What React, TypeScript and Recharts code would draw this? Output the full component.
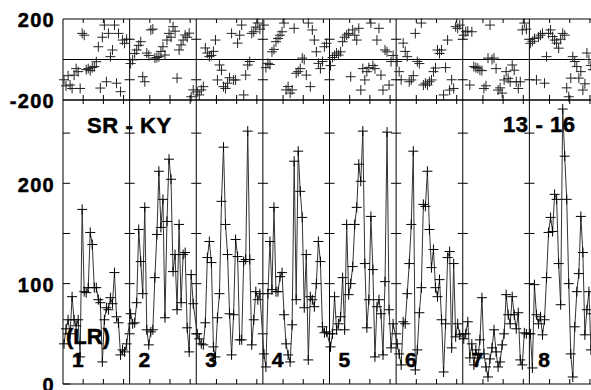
import React from 'react';
import { ComposedChart, Line, Scatter, XAxis, YAxis, ReferenceLine } from 'recharts';

// 8 record segments, each SEG_LEN samples wide on the x axis
const SEG_LEN = 33;
const SEG_COUNT = 8;

// amplitude (bottom panel), one array per segment
const amp1 = [40, 55, 64, 50, 87, 64, 58, 64, 27, 174, 92, 91, 96, 151, 139, 96, 96, 84, 81, 22, 64, 76, 74, 86, 80, 111, 67, 61, 29, 34, 32, 40];
const amp2 = [70, 60, 61, 81, 154, 122, 90, 176, 54, 39, 52, 54, 106, 149, 212, 156, 184, 66, 162, 224, 204, 112, 129, 74, 159, 81, 129, 131, 56, 32, 109, 80];
const amp3 = [50, 45, 40, 39, 61, 126, 142, 121, 37, 27, 66, 90, 182, 236, 159, 129, 70, 29, 69, 144, 127, 44, 44, 122, 124, 252, 124, 39, 64, 92, 84, 90];
const amp4 = [30, 17, 90, 142, 94, 176, 92, 92, 107, 111, 69, 40, 29, 22, 59, 222, 84, 232, 192, 166, 76, 129, 24, 87, 84, 77, 100, 142, 122, 57, 51, 52];
const amp5 = [37, 50, 87, 54, 60, 67, 106, 54, 159, 89, 100, 117, 159, 176, 219, 202, 252, 120, 56, 84, 167, 114, 27, 77, 84, 70, 29, 102, 251, 74, 36, 60];
const amp6 = [40, 30, 19, 62, 60, 90, 120, 159, 232, 14, 34, 71, 96, 179, 177, 212, 154, 116, 134, 96, 87, 104, 64, 12, 60, 126, 132, 36, 120, 47, 60, 49];
const amp7 = [45, 50, 62, 26, 40, 19, 34, 26, 44, 86, 30, 17, 7, 25, 36, 54, 32, 17, 22, 39, 50, 89, 69, 60, 87, 69, 55, 71, 24, 19, 51, 50];
const amp8 = [50, 16, 99, 69, 60, 67, 49, 64, 106, 151, 166, 152, 189, 184, 120, 79, 274, 227, 184, 100, 30, 7, 57, 92, 110, 167, 131, 49, 74, 92, 34, 70];

// phase (top panel), one array per segment
const phase1 = [-100, -130, -80, -126, -143, -77, -45, -60, -143, 129, 120, -50, -45, -55, -40, -35, -11, 63, -141, 110, 170, -110, 129, 14, 47, 170, -117, 129, -159, 96, 80, 100];
const phase2 = [-20, -2, 30, 47, 70, 88, -85, -110, 32, 20, 146, 150, 7, 10, 14, 40, 63, 22, 96, 129, 110, 162, 140, -92, 47, 72, 96, 121, 110, 130, -184, -150];
const phase3 = [-160, -175, -150, -134, 57, 32, 14, 20, 40, 96, -101, -27, -53, -134, -143, -117, -90, 129, -101, -101, 81, 120, 170, -175, -77, -27, -10, 129, 137, 160, 180, 150];
const phase4 = [170, -40, -19, -25, 38, 50, 88, 104, 120, 137, 180, -150, -134, -166, -150, 154, -68, -60, -45, 7, 0, -77, 180, -134, 146, 96, 38, -19, -45, -10, 63, 80];
const phase5 = [-30, 10, 20, 32, 22, 38, 88, 110, 121, 129, -85, 146, 120, 96, 154, -151, -45, -101, -60, -40, 180, -30, -45, 96, 154, -77, -151, 47, 38, -126, -10, 20];
const phase6 = [-10, -60, -100, 81, 40, 14, -110, -101, -80, 129, -10, -20, 180, -126, -117, -126, -110, -101, -60, -42, 47, 30, 47, -175, -40, 96, -151, -100, -143, 162, 154, 170];
const phase7 = [120, 137, 140, -126, 137, -35, -40, -43, -53, -55, -143, -130, 7, 170, 0, 7, -45, -151, -140, -166, -101, -60, -93, -110, -27, -53, -110, -143, -110, 146, 180, 150];
const phase8 = [80, 90, 104, -101, 110, 120, 129, -117, 14, 129, 146, 113, 96, 81, 56, 100, 129, 120, -140, -184, -92, 14, -10, -35, -92, -60, -151, -120, 32, 0, -30, -50];

const ampSegments = [amp1, amp2, amp3, amp4, amp5, amp6, amp7, amp8];
const phaseSegments = [phase1, phase2, phase3, phase4, phase5, phase6, phase7, phase8];

const segmentLabels = ['1', '2', '3', '4', '5', '6', '7', '8'];
const ampTicks = [0, 50, 100, 150, 200, 250];
const ampLabelled = [0, 100, 200];
const phaseTicks = [-200, 200];
const boundaryAmpTicks = [50, 100, 150, 200, 250];
const boundaryPhaseTicks = [-100, 100];
const minorOffsets = [10, 20, 30];

const rows = ampSegments.flatMap((seg, s) =>
  seg.map((v, i) => ({ x: s * SEG_LEN + i + 0.5, amp: v, phase: phaseSegments[s][i] }))
);
const boundaries = Array.from({ length: SEG_COUNT }, (_, s) => (s + 1) * SEG_LEN);
const xTicks = Array.from({ length: SEG_COUNT }, (_, s) => minorOffsets.map((o) => s * SEG_LEN + o)).flat();
const X_MAX = SEG_LEN * SEG_COUNT;

const FONT = '"Liberation Sans", Arial, sans-serif';
const INK = '#000';

const plusPath = (cx: number, cy: number) => `M${cx - 5},${cy}H${cx + 5}M${cx},${cy - 5}V${cy + 5}`;

const PlusDot = (p: any) => {
  if (p.cx == null || p.cy == null) return <g key={p.index} />;
  return <path key={p.index} d={plusPath(p.cx, p.cy)} stroke={INK} strokeWidth={1} fill="none" />;
};

const PlusShape = (p: any) => <path d={plusPath(p.cx, p.cy)} stroke="#222" strokeWidth={1} fill="none" />;

const UpTick = ({ x, y }: any) => <line x1={x} x2={x} y1={y} y2={y - 5} stroke={INK} />;
const DownTick = ({ x, y }: any) => <line x1={x} x2={x} y1={y} y2={y + 4} stroke={INK} />;

const boldText = { fontFamily: FONT, fontWeight: 'bold' as const, fill: INK, stroke: INK, strokeWidth: 0.5 };

const makeYTick = (labelled: number[], inward: boolean) => ({ x, y, payload }: any) => (
  <g>
    {inward && <line x1={x + 8} x2={x + 15} y1={y} y2={y} stroke={INK} />}
    {labelled.includes(payload.value) && (
      <text x={x} y={y} dy="0.42em" textAnchor="end" fontSize={20} letterSpacing={1.3} {...boldText}>
        {payload.value}
      </text>
    )}
  </g>
);

const AmpTick = makeYTick(ampLabelled, true);
const PhaseTick = makeYTick(phaseTicks, false);

export default function App() {
  return (
    <div style={{ position: 'absolute', left: 0, top: 0, width: 591, height: 390, overflow: 'hidden', background: '#fff' }}>
      {/* phase panel */}
      <div style={{ position: 'absolute', left: 0, top: 0 }}>
        <ComposedChart width={600} height={112} data={rows} margin={{ top: 18, right: 4, bottom: 11, left: 0 }}>
          <XAxis dataKey="x" type="number" domain={[0, X_MAX]} ticks={xTicks} interval={0} height={1}
            tickSize={0} tickMargin={0} tickLine={false} tick={<UpTick />} axisLine={{ stroke: INK }} />
          <XAxis xAxisId="top" orientation="top" dataKey="x" type="number" domain={[0, X_MAX]} ticks={xTicks} interval={0} height={1}
            tickSize={0} tickMargin={0} tickLine={false} tick={<DownTick />} axisLine={{ stroke: INK }} />
          <YAxis type="number" domain={[-200, 200]} ticks={phaseTicks} interval={0} width={63} tickSize={0} tickMargin={8}
            tickLine={false} tick={<PhaseTick />} axisLine={{ stroke: INK }} />
          <ReferenceLine y={0} stroke={INK} />
          {boundaries.map((b) => (
            <ReferenceLine key={`pb${b}`} x={b} stroke={INK} />
          ))}
          {boundaries.flatMap((b) =>
            boundaryPhaseTicks.map((v) => (
              <ReferenceLine key={`pt${b}-${v}`} segment={[{ x: b - 2.5, y: v }, { x: b + 2.5, y: v }]} stroke={INK} />
            ))
          )}
          <Scatter dataKey="phase" shape={PlusShape} isAnimationActive={false} />
        </ComposedChart>
      </div>

      {/* amplitude panel */}
      <div style={{ position: 'absolute', left: 0, top: 99 }}>
        <ComposedChart width={600} height={291} data={rows} margin={{ top: 0, right: 4, bottom: 5, left: 0 }}>
          <XAxis dataKey="x" type="number" domain={[0, X_MAX]} ticks={xTicks} interval={0} height={1}
            tickSize={0} tickMargin={0} tickLine={false} tick={<UpTick />} axisLine={{ stroke: INK }} />
          <XAxis xAxisId="top" orientation="top" dataKey="x" type="number" domain={[0, X_MAX]} ticks={xTicks} interval={0} height={1}
            tickSize={0} tickMargin={0} tickLine={false} tick={<DownTick />} axisLine={{ stroke: INK }} />
          <YAxis type="number" domain={[0, 283]} ticks={ampTicks} interval={0} width={63} tickSize={0} tickMargin={8}
            tickLine={false} tick={<AmpTick />} axisLine={{ stroke: INK }} />
          {boundaries.map((b) => (
            <ReferenceLine key={`ab${b}`} x={b} stroke={INK} />
          ))}
          {boundaries.flatMap((b) =>
            boundaryAmpTicks.map((v) => (
              <ReferenceLine key={`at${b}-${v}`} segment={[{ x: b - 2.5, y: v }, { x: b + 2.5, y: v }]} stroke={INK} />
            ))
          )}
          <Line type="linear" dataKey="amp" stroke="#333" strokeWidth={1} dot={PlusDot} activeDot={false} isAnimationActive={false} />
        </ComposedChart>
      </div>

      {/* panel annotations */}
      <svg width={591} height={390} style={{ position: 'absolute', left: 0, top: 0, pointerEvents: 'none' }}>
        <text x={87} y={125} dy="0.36em" fontSize={22} letterSpacing={0.6} {...boldText}>SR - KY</text>
        <text x={503} y={124} dy="0.36em" fontSize={22} letterSpacing={0.6} {...boldText}>13 - 16</text>
        <text x={66} y={336} dy="0.36em" fontSize={22} {...boldText}>(LR)</text>
        {segmentLabels.map((lab, s) => (
          <text key={lab} x={63 + s * 66.6 + 9} y={359} dy="0.36em" fontSize={21} {...boldText}>{lab}</text>
        ))}
      </svg>
    </div>
  );
}
